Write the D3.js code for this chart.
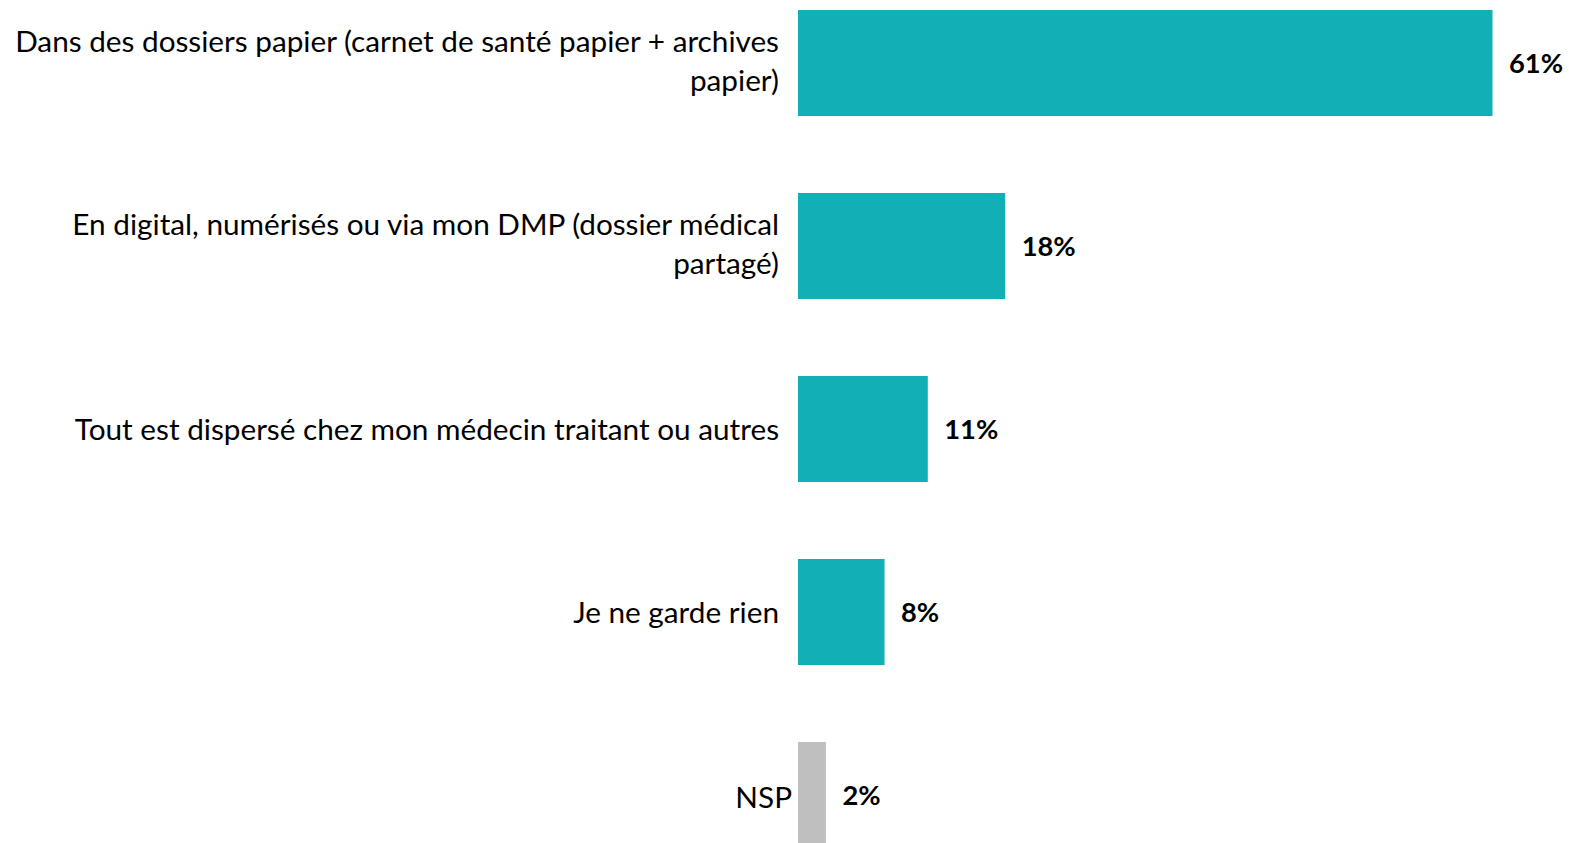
<!DOCTYPE html>
<html>
<head>
<meta charset="utf-8">
<script src="https://cdn.jsdelivr.net/npm/d3@7"></script>
<style>
  html, body { margin: 0; padding: 0; background: #fff; }
  svg { display: block; }
</style>
</head>
<body>
<svg id="chart" width="1569" height="843"></svg>
<script>
const categories = [
  "Dans des dossiers papier (carnet de santé papier + archives papier)",
  "En digital, numérisés ou via mon DMP (dossier médical partagé)",
  "Tout est dispersé chez mon médecin traitant ou autres",
  "Je ne garde rien",
  "NSP"
];
// bar lengths (labels show rounded values)
const values = [61, 18.2, 11.4, 7.6, 2.45];
const valueLabels = ["61%", "18%", "11%", "8%", "2%"];
const barColors = ["#13AFB7", "#13AFB7", "#13AFB7", "#13AFB7", "#BFBFBF"];

const svg = d3.select("#chart");
const fontFamily = "Lato, 'Open Sans', sans-serif";

const x = d3.scaleLinear().domain([0, 61]).range([798, 1492.5]);
const y = d3.scaleBand().domain(categories).range([10, 848]).paddingInner(77 / 183).paddingOuter(0);

function measure(txt, size, weight) {
  const t = svg.append("text").attr("font-family", fontFamily).attr("font-size", size)
    .attr("font-weight", weight).text(txt);
  const w = t.node().getComputedTextLength();
  t.remove();
  return w;
}
const labelSize = 26 * 764 / measure("Dans des dossiers papier (carnet de santé papier + archives", 26, "normal");
const valueSize = 26 * 54 / measure("61%", 26, "bold");

svg.selectAll("rect.bar").data(categories).enter().append("rect")
  .attr("class", "bar")
  .attr("x", x(0))
  .attr("y", d => y(d))
  .attr("width", (d, i) => x(values[i]) - x(0))
  .attr("height", y.bandwidth())
  .attr("fill", (d, i) => barColors[i]);

svg.selectAll("text.val").data(categories).enter().append("text")
  .attr("class", "val")
  .attr("x", (d, i) => x(values[i]) + 16.5)
  .attr("y", d => y(d) + y.bandwidth() / 2)
  .attr("dy", "0.35em")
  .attr("font-family", fontFamily)
  .attr("font-size", valueSize)
  .attr("font-weight", "bold")
  .attr("fill", "#000")
  .text((d, i) => valueLabels[i]);

const maxW = 770;
const lineH = 39;
categories.forEach((cat, i) => {
  const words = cat.split(" ");
  const lines = [];
  let cur = "";
  words.forEach(w => {
    const test = cur ? cur + " " + w : w;
    if (cur && measure(test, labelSize, "normal") > maxW) { lines.push(cur); cur = w; }
    else cur = test;
  });
  lines.push(cur);
  const last = i === categories.length - 1;
  const cx = last ? 792 : 779;
  const shift = lines.length > 1 ? -1.5 : (last ? 2.5 : 1);
  const cy = y(cat) + y.bandwidth() / 2;
  const t = svg.append("text")
    .attr("text-anchor", "end")
    .attr("font-family", fontFamily)
    .attr("font-size", labelSize)
    .attr("fill", "#000");
  lines.forEach((ln, k) => {
    t.append("tspan")
      .attr("x", cx)
      .attr("y", cy + (k - (lines.length - 1) / 2) * lineH + shift)
      .attr("dy", "0.35em")
      .text(ln);
  });
});
</script>
</body>
</html>
